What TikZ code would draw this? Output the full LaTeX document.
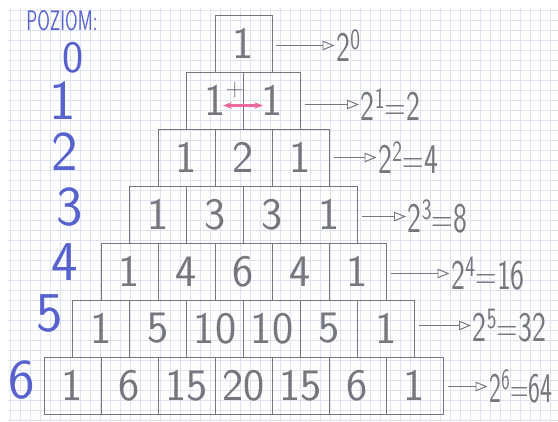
\documentclass[tikz,border=0pt]{standalone}
\usepackage{fontspec}
\usepackage{graphicx}
\usetikzlibrary{arrows.meta}

\definecolor{pencil}{RGB}{118,118,126}
\definecolor{inkblue}{RGB}{88,98,205}
\definecolor{marker}{RGB}{236,105,160}
\definecolor{paper}{RGB}{220,226,240}

\newcommand{\narrow}[2][0.7]{\scalebox{#1}[1]{#2}}

\begin{document}
\begin{tikzpicture}[x=0.25mm, y=-0.25mm, line width=0.7pt,
  every node/.style={font=\sffamily},
  cell/.style={draw=pencil, minimum width=14.25mm, minimum height=14.25mm, inner sep=0pt,
    text=pencil, font=\sffamily\fontsize{32}{32}\selectfont},
  level/.style={text=inkblue, inner sep=0pt, text height=27pt, text depth=0pt,
    font=\sffamily\fontsize{40}{40}\selectfont},
  power/.style={text=pencil, anchor=west, inner sep=1pt, font=\sffamily\fontsize{30}{30}\selectfont},
  to power/.style={draw=pencil, -{Triangle[open, length=3mm, width=2.4mm]}}]

% Sheet of squared paper
\useasboundingbox (0,0) rectangle (558,421);
\fill[white] (0,0) rectangle (558,421);
\foreach \gx in {10,20,...,550} {
  \draw[paper, line width=0.4pt] (\gx,8) -- (\gx,421);
}
\foreach \gy in {10,20,...,420} {
  \draw[paper, line width=0.4pt] (8,\gy) -- (558,\gy);
}

% Pascal rows
\foreach \row/\vals in {0/{1}, 1/{1,1}, 2/{1,2,1}, 3/{1,3,3,1}, 4/{1,4,6,4,1},
    5/{1,5,10,10,5,1}, 6/{1,6,15,20,15,6,1}} {
  \foreach \v [count=\k from 0] in \vals {
    \node[cell] (r\row-\k) at ({215-28.5*\row+57*\k+28.5}, {15+57*\row+28.5}) {\v};
  }
}

% Levels
\node[level, text height=14pt, font=\sffamily\fontsize{20}{20}\selectfont] (title) at (62,21) {\scalebox{0.65}[1]{POZIOM:}};
\node[level, text height=22pt, font=\sffamily\fontsize{32}{32}\selectfont] (l0) at (73,57) {0};
\node[level] (l1) at (63,101) {1};
\node[level] (l2) at (65,152) {2};
\node[level] (l3) at (70,207) {3};
\node[level] (l4) at (65,262) {4};
\node[level] (l5) at (50,313) {5};
\node[level] (l6) at (22,380) {6};

% Sum of each row
\node[power] (p0) at ([shift={(62,2)}]r0-0.east) {\narrow{2\textsuperscript{0}}};
\node[power] (p1) at ([shift={(58,4)}]r1-1.east) {\narrow{2\textsuperscript{1}=2}};
\node[power] (p2) at ([shift={(47,0)}]r2-2.east) {\narrow{2\textsuperscript{2}=4}};
\node[power] (p3) at ([shift={(48,2)}]r3-3.east) {\narrow{2\textsuperscript{3}=8}};
\node[power] (p4) at ([shift={(63,2)}]r4-4.east) {\narrow{2\textsuperscript{4}=16}};
\node[power] (p5) at ([shift={(56,-3)}]r5-5.east) {\narrow{2\textsuperscript{5}=32}};
\node[power] (p6) at ([shift={(44,1)}]r6-6.east) {\narrow[0.6]{2\textsuperscript{6}=64}};
\foreach \row in {0,...,6} {
  \draw[to power] ([xshift=1mm]r\row-\row.east |- p\row.west) -- (p\row.west);
}

% 1 + 1
\node[pencil, inner sep=0pt, font=\sffamily\fontsize{18}{18}\selectfont] (plus) at ([shift={(-9,-10)}]r1-0.east) {+};
\draw[marker, line width=1.6pt, {Stealth[length=2.2mm]}-{Stealth[length=2.2mm]}]
  ([shift={(-21,5)}]r1-0.east) -- ([shift={(20,5)}]r1-1.west);

\end{tikzpicture}
\end{document}
